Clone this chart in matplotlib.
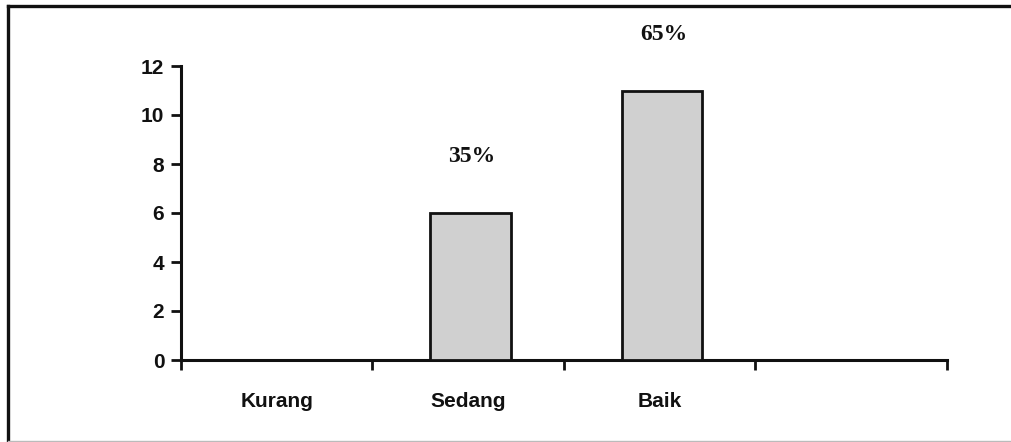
import matplotlib
matplotlib.use("Agg")
import matplotlib.pyplot as plt
from matplotlib.lines import Line2D
import numpy as np

# ---- data ----
categories = ["Kurang", "Sedang", "Baik", ""]
values = [0, 6, 11]
percent_labels = ["", "35%", "65%"]
y_ticks = [0, 2, 4, 6, 8, 10, 12]

fig = plt.figure(figsize=(10.12, 4.42), dpi=100)
fig.patch.set_facecolor("white")
ax = fig.add_axes([181 / 1012, 1 - 360 / 442, (947 - 181) / 1012, (360 - 66) / 442])

x = np.arange(len(values))
ax.bar(x + 0.012, values, width=0.42, color="#d0d0d0", edgecolor="#111111", linewidth=2.0, zorder=3)

for xi, v, lab in zip(x, values, percent_labels):
    if lab:
        ax.text(xi + 0.02, v + 2.3, lab, ha="center", va="center",
                fontsize=17, fontweight="bold", family="Liberation Serif",
                color="#111111", clip_on=False)

ax.set_xlim(-0.5, len(categories) - 0.5)
ax.set_ylim(0, 12)

# major ticks at category boundaries, labels on minor ticks at centers
ax.set_xticks(np.arange(-0.5, len(categories), 1.0))
ax.set_xticklabels([])
ax.set_xticks(np.arange(len(categories)), minor=True)
ax.set_xticklabels(categories, minor=True, fontsize=15, fontweight="bold",
                   family="Liberation Sans", color="#111111")
ax.tick_params(axis="x", which="major", direction="out", length=7, width=2, color="#111111")
ax.tick_params(axis="x", which="minor", length=0, pad=23)

ax.set_yticks(y_ticks)
ax.set_yticklabels([str(t) for t in y_ticks], fontsize=15, fontweight="bold",
                   family="Liberation Sans", color="#111111")
ax.tick_params(axis="y", direction="out", length=7, width=2, color="#111111", pad=5)

for s in ["top", "right"]:
    ax.spines[s].set_visible(False)
for s in ["left", "bottom"]:
    ax.spines[s].set_linewidth(2.2)
    ax.spines[s].set_color("#111111")

# scanned frame around the chart
fig.add_artist(Line2D([8 / 1012, 8 / 1012], [1 - 6 / 442, 0], transform=fig.transFigure,
                      color="#111111", linewidth=2.4))
fig.add_artist(Line2D([8 / 1012, 1.0], [1 - 6 / 442, 1 - 6 / 442], transform=fig.transFigure,
                      color="#111111", linewidth=2.4))
fig.add_artist(Line2D([8 / 1012, 1.0], [1 - 440.5 / 442, 1 - 440.5 / 442], transform=fig.transFigure,
                      color="#bbbbbb", linewidth=1.0))

fig.savefig("out.png", dpi=100, facecolor="white")
